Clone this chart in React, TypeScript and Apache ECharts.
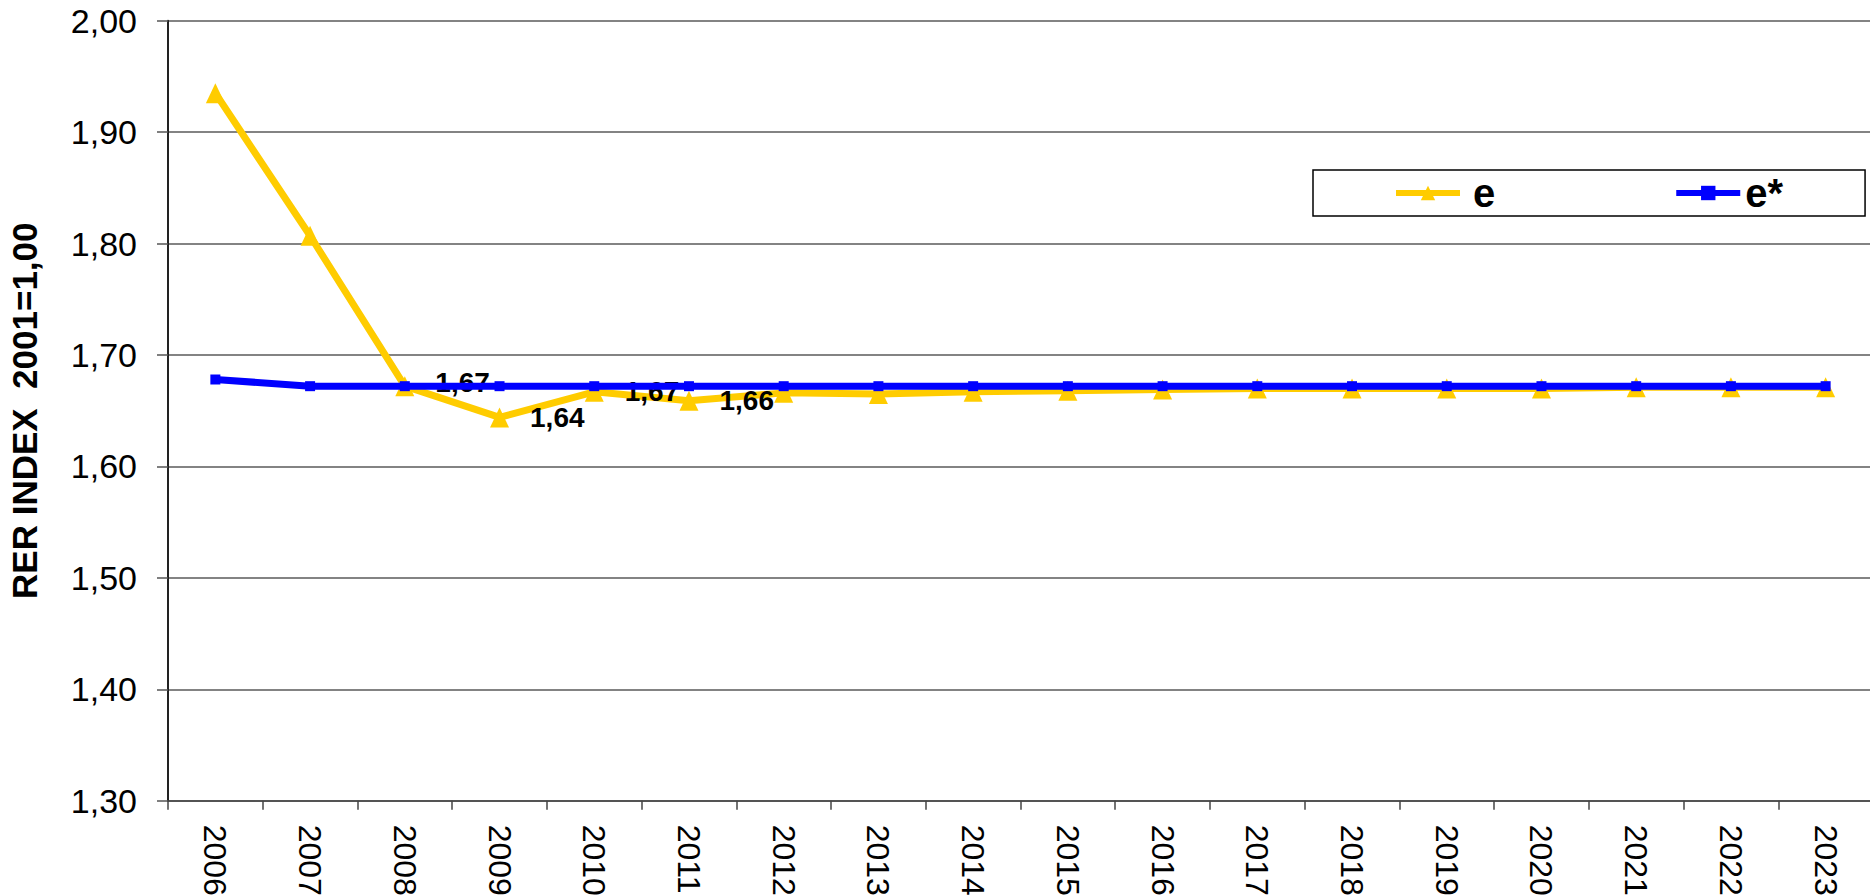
import React, { useEffect, useRef } from "react";
import * as echarts from "echarts";

const years = ["2006","2007","2008","2009","2010","2011","2012","2013","2014","2015","2016","2017","2018","2019","2020","2021","2022","2023"];
const eValues = [1.935, 1.807, 1.672, 1.644, 1.667, 1.659, 1.666, 1.665, 1.667, 1.668, 1.669, 1.670, 1.670, 1.670, 1.670, 1.671, 1.671, 1.671];
const eStarValues = [1.678, 1.672, 1.672, 1.672, 1.672, 1.672, 1.672, 1.672, 1.672, 1.672, 1.672, 1.672, 1.672, 1.672, 1.672, 1.672, 1.672, 1.672];
const labelledYears = ["2008", "2009", "2010", "2011"];
const yTicks = { min: 1.3, max: 2.0, interval: 0.1 };

const fmt = (v: number) => v.toFixed(2).replace(".", ",");
const FONT = "'Liberation Sans', Arial, sans-serif";

export default function App() {
  const ref = useRef<HTMLDivElement>(null);
  useEffect(() => {
    if (!ref.current) return;
    const chart = echarts.init(ref.current, null, { renderer: "svg" });
    const eData = eValues.map((v, i) => {
      const show = labelledYears.includes(years[i]);
      return show
        ? {
            value: v,
            label: {
              show: true,
              position: "right",
              distance: 21,
              offset: years[i] === "2008" ? [0, -4] : [0, 0],
              formatter: (p: any) => fmt(p.value),
              fontFamily: FONT,
              fontWeight: "bold",
              fontSize: 28,
              color: "#000",
            },
          }
        : v;
    });
    chart.setOption({
      animation: false,
      backgroundColor: "#fff",
      textStyle: { fontFamily: FONT },
      grid: {
        left: 168,
        top: 20.7,
        width: 1705,
        height: 780,
        containLabel: false,
        outerBoundsMode: "none",
      },
      legend: {
        left: 1313,
        top: 170,
        width: 520,
        orient: "horizontal",
        borderColor: "#000",
        borderWidth: 1.5,
        padding: [3, 82, 3, 80],
        itemGap: 178,
        itemWidth: 64,
        itemHeight: 18,
        lineStyle: { width: 6 },
        textStyle: {
          fontFamily: FONT,
          fontWeight: "bold",
          fontSize: 40,
          lineHeight: 40,
          color: "#000",
          padding: [0, 0, 0, 8],
        },
        data: [
          { name: "e" },
          { name: "e*", textStyle: { padding: [0, 0, 0, 0] } },
        ],
      },
      xAxis: {
        type: "category",
        data: years,
        boundaryGap: true,
        axisLine: { lineStyle: { color: "#444", width: 1.5 } },
        axisTick: { show: true, length: 9, lineStyle: { color: "#444", width: 1.5 } },
        axisLabel: {
          rotate: -90,
          margin: 24,
          fontFamily: FONT,
          fontSize: 32,
          color: "#000",
        },
        splitLine: { show: false },
      },
      yAxis: {
        type: "value",
        min: yTicks.min,
        max: yTicks.max,
        interval: yTicks.interval,
        name: "RER INDEX  2001=1,00",
        nameLocation: "middle",
        nameGap: 126,
        nameTextStyle: {
          fontFamily: FONT,
          fontWeight: "bold",
          fontSize: 35,
          color: "#000",
        },
        axisLine: { show: true, lineStyle: { color: "#222", width: 2 } },
        axisTick: { show: true, length: 11, lineStyle: { color: "#555", width: 1.5 } },
        axisLabel: {
          margin: 31,
          fontFamily: FONT,
          fontSize: 34,
          color: "#000",
          formatter: (v: number) => fmt(v),
        },
        splitLine: { show: true, lineStyle: { color: "#5a5a5a", width: 1.5 } },
      },
      series: [
        {
          name: "e",
          type: "line",
          data: eData,
          symbol: "triangle",
          symbolSize: [19, 20],
          color: "#FFCC00",
          lineStyle: { color: "#FFCC00", width: 7 },
          itemStyle: { color: "#FFCC00" },
          z: 2,
        },
        {
          name: "e*",
          type: "line",
          data: eStarValues,
          symbol: "rect",
          symbolSize: [10, 10],
          color: "#0000FF",
          lineStyle: { color: "#0000FF", width: 7 },
          itemStyle: { color: "#0000FF" },
          z: 3,
        },
      ],
    });
    return () => chart.dispose();
  }, []);
  return (
    <div
      ref={ref}
      style={{ position: "fixed", left: 0, top: 0, width: 1870, height: 895 }}
    />
  );
}
